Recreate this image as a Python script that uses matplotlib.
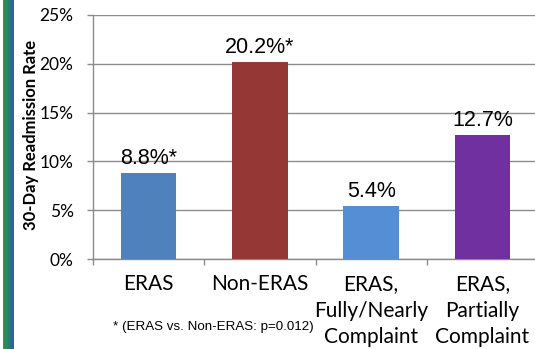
import numpy as np
import matplotlib
matplotlib.use("Agg")
from matplotlib import pyplot as plt
from matplotlib.colors import LinearSegmentedColormap

# 30-day readmission rates (%) by group
groups = ["ERAS", "Non-ERAS", "ERAS,\nFully/Nearly\nComplaint", "ERAS,\nPartially\nComplaint"]
rates = [8.8, 20.2, 5.4, 12.7]
rate_labels = ["8.8%*", "20.2%*", "5.4%", "12.7%"]
bar_colors = ["#4F81BD", "#953735", "#558ED5", "#7030A0"]
y_ticks = [0, 5, 10, 15, 20, 25]
footnote = "* (ERAS vs. Non-ERAS: p=0.012)"

GRID = "#8C8C8C"
LABEL_FONT = ["Lato", "DejaVu Sans"]
VALUE_FONT = ["Liberation Sans", "DejaVu Sans"]

fig = plt.figure(figsize=(5.35, 3.49), dpi=100)
fig.patch.set_facecolor("white")

# green-to-blue stripe down the left edge
stripe = fig.add_axes([3 / 535, 0, 11 / 535, 1])
cmap = LinearSegmentedColormap.from_list("stripe", ["#2E9C3A", "#2C5DAA"])
stripe.imshow(np.linspace(0, 1, 50).reshape(1, -1), aspect="auto", cmap=cmap)
stripe.set_axis_off()

ax = fig.add_axes([93 / 535, 90 / 349, 445 / 535, 244 / 349])
x = np.arange(len(groups))
ax.bar(x, rates, width=0.5, color=bar_colors, zorder=3)

for xi, r, lab in zip(x, rates, rate_labels):
    ax.annotate(lab, (xi, r), xytext=(0, 3), textcoords="offset points",
                ha="center", va="bottom", fontsize=15.5, family=VALUE_FONT,
                color="black", zorder=4)

ax.set_xlim(-0.5, 3.5)
ax.set_ylim(0, 25)
ax.set_yticks(y_ticks)
ax.set_yticklabels([f"{t}%" for t in y_ticks], family=LABEL_FONT, fontsize=12.5)
ax.yaxis.grid(True, color=GRID, linewidth=1.0, zorder=0)

ax.set_xticks(x)
ax.set_xticklabels(groups, family=LABEL_FONT, fontsize=15, linespacing=1.4)
ax.set_xticks(np.arange(-0.5, 4.0, 1.0), minor=True)
ax.tick_params(axis="x", which="major", length=0, pad=11)
ax.tick_params(axis="x", which="minor", length=4, width=1.0, color=GRID, direction="out")
ax.tick_params(axis="y", length=4, width=1.0, color=GRID, direction="out", pad=10)

for side in ["top", "right"]:
    ax.spines[side].set_visible(False)
for side in ["left", "bottom"]:
    ax.spines[side].set_color(GRID)
    ax.spines[side].set_linewidth(1.0)

fig.text(31 / 535, 1 - 135 / 349, "30-Day Readmission Rate", rotation=90,
         ha="center", va="center", fontsize=12, fontweight="bold", family=LABEL_FONT)
fig.text(213 / 535, 1 - 327 / 349, footnote, ha="center", va="center",
         fontsize=9.6, family=VALUE_FONT)

fig.savefig("out.png", dpi=100)
